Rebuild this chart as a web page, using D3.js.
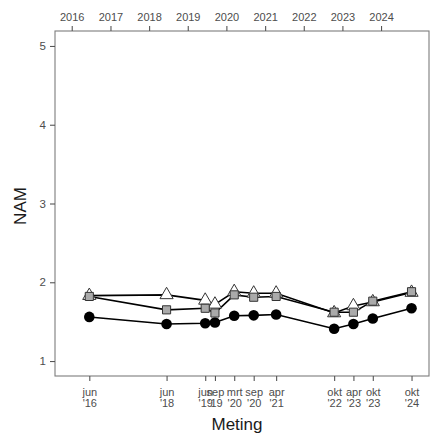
<!DOCTYPE html>
<html>
<head>
<meta charset="utf-8">
<script src="https://cdn.jsdelivr.net/npm/d3@7"></script>
<style>
  html, body { margin: 0; padding: 0; background: #fff; }
  svg { display: block; font-family: "Liberation Sans", Arial, sans-serif; }
</style>
</head>
<body>
<svg id="chart" width="432" height="436"></svg>
<script>
// ---- data ----
const dates = ["2016-06-15","2018-06-15","2019-06-15","2019-09-15","2020-03-15","2020-09-15","2021-04-15","2022-10-15","2023-04-15","2023-10-15","2024-10-15"];
const labelsMonth = ["jun","jun","jun","sep","mrt","sep","apr","okt","apr","okt","okt"];
const labelsYear = ["'16","'18","'19","'19","'20","'20","'21","'22","'23","'23","'24"];
const circleValues   = [1.56, 1.47, 1.48, 1.49, 1.575, 1.58, 1.59, 1.41, 1.47, 1.54, 1.67];
const squareValues   = [1.82, 1.65, 1.67, 1.61, 1.84, 1.81, 1.82, 1.62, 1.62, 1.76, 1.88];
const triangleValues = [1.83, 1.84, 1.77, 1.72, 1.88, 1.86, 1.86, 1.61, 1.70, 1.75, 1.87];
const topYears = [2016, 2017, 2018, 2019, 2020, 2021, 2022, 2023, 2024];
const yTicks = [1, 2, 3, 4, 5];

const parse = d3.timeParse("%Y-%m-%d");
const dts = dates.map(parse);

const svg = d3.select("#chart");
const L = 55, R = 429, T = 31, B = 376;

const x = d3.scaleTime()
  .domain([new Date(2015, 6, 27), new Date(2025, 2, 29)])
  .range([L, R]);
const y = d3.scaleLinear().domain([0.81, 5.19]).range([B, T]);

// panel
svg.append("rect").attr("x", L).attr("y", T).attr("width", R - L).attr("height", B - T)
  .attr("fill", "#fff").attr("stroke", "#7d7d7d").attr("stroke-width", 1.1);

const tickCol = "#555", labCol = "#4d4d4d";

// y axis
const yAx = svg.append("g").attr("transform", `translate(${L},0)`)
  .call(d3.axisLeft(y).tickValues(yTicks).tickSize(5).tickPadding(4).tickFormat(d3.format("d")));
yAx.select(".domain").remove();
yAx.selectAll("line").attr("stroke", tickCol).attr("stroke-width", 1.1);
yAx.selectAll("text").attr("fill", labCol).style("font-size", "11.5px");

// top axis (years)
const tAx = svg.append("g").attr("transform", `translate(0,${T})`)
  .call(d3.axisTop(x).tickValues(topYears.map(yy => new Date(yy, 0, 1))).tickSize(5).tickPadding(5).tickFormat(d3.timeFormat("%Y")));
tAx.select(".domain").remove();
tAx.selectAll("line").attr("stroke", tickCol).attr("stroke-width", 1.1);
tAx.selectAll("text").attr("fill", labCol).style("font-size", "11px");

// bottom axis (measurements)
const bAx = svg.append("g").attr("transform", `translate(0,${B})`)
  .call(d3.axisBottom(x).tickValues(dts).tickSize(5).tickFormat(""));
bAx.select(".domain").remove();
bAx.selectAll("line").attr("stroke", tickCol).attr("stroke-width", 1.1);
bAx.selectAll(".tick").each(function(d, i) {
  const t = d3.select(this).append("text").attr("fill", labCol)
    .attr("text-anchor", "middle").style("font-size", "11px");
  t.append("tspan").attr("x", 0).attr("y", 19.5).text(labelsMonth[i]);
  t.append("tspan").attr("x", 0).attr("y", 31).text(labelsYear[i]);
});

// axis titles
svg.append("text").attr("x", 237).attr("y", 430).attr("text-anchor", "middle")
  .style("font-size", "17px").attr("fill", "#1a1a1a").text("Meting");
svg.append("text").attr("transform", "translate(26,206) rotate(-90)").attr("text-anchor", "middle")
  .style("font-size", "17px").attr("fill", "#1a1a1a").text("NAM");

// lines
const line = d3.line().x((d, i) => x(dts[i])).y(d => y(d));
[circleValues, triangleValues, squareValues].forEach(vals => {
  svg.append("path").datum(vals).attr("d", line)
    .attr("fill", "none").attr("stroke", "#000").attr("stroke-width", 1.6);
});

// points
svg.append("g").selectAll("circle").data(circleValues).join("circle")
  .attr("cx", (d, i) => x(dts[i])).attr("cy", d => y(d)).attr("r", 5.3)
  .attr("fill", "#000");

const tri = d3.symbol().type(d3.symbolTriangle).size(75);
svg.append("g").selectAll("path").data(triangleValues).join("path")
  .attr("transform", (d, i) => `translate(${x(dts[i])},${y(d)})`)
  .attr("d", tri).attr("fill", "#fff").attr("stroke", "#333").attr("stroke-width", 1);

const sq = d3.symbol().type(d3.symbolSquare).size(66);
svg.append("g").selectAll("path").data(squareValues).join("path")
  .attr("transform", (d, i) => `translate(${x(dts[i])},${y(d)})`)
  .attr("d", sq).attr("fill", "#aaaaaa").attr("stroke", "#333").attr("stroke-width", 1);
</script>
</body>
</html>
